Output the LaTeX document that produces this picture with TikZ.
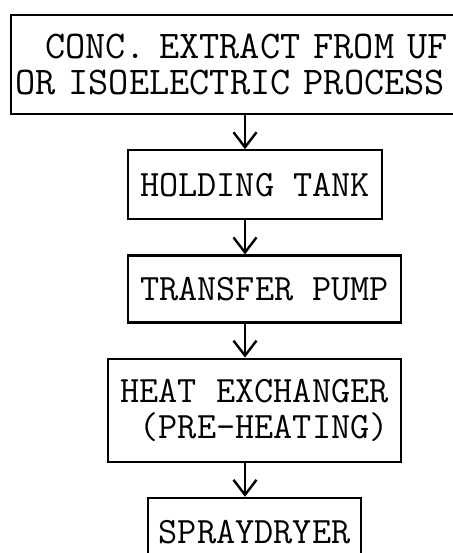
\documentclass[tikz,border=0pt]{standalone}
\usetikzlibrary{positioning, arrows.meta}

\begin{document}
\begin{tikzpicture}[
    x=0.5pt, y=-0.5pt,
    node distance=17pt,
    stage/.style={
        rectangle,
        draw=black,
        line width=1.1pt,
        font=\ttfamily\fontsize{18.6}{18}\selectfont,
        align=center,
        inner sep=1pt
    },
    flow/.style={
        -{Straight Barb[length=7.5pt, width=11.5pt]},
        line width=1.2pt
    }
]
    \useasboundingbox (0,0) rectangle (452,553);
    \coordinate (axis) at (245,0);

    \node[stage, anchor=north west, text width=236pt, align=left, minimum height=49.5pt,
          inner xsep=2pt, font=\ttfamily\fontsize{19.6}{18}\selectfont] (extract) at (10,14)
          {\hspace*{15pt}CONC. EXTRACT FROM UF\\OR ISOELECTRIC PROCESS};
    \node[stage, below=of extract, xshift=2pt, minimum width=127pt, minimum height=34.5pt] (tank) {HOLDING TANK};
    \node[stage, below=of tank, xshift=4.75pt, minimum width=136.5pt, minimum height=33.5pt] (pump) {TRANSFER PUMP};
    \node[stage, below=of pump, xshift=-5pt, minimum width=146.5pt, minimum height=51.5pt, align=right] (heater) {HEAT EXCHANGER\\(PRE-HEATING)};
    \node[stage, below=of heater, minimum width=106.5pt, minimum height=34pt] (dryer) {SPRAYDRYER};

    \draw[flow] (extract.south -| axis) -- (tank.north -| axis);
    \draw[flow] (tank.south -| axis) -- (pump.north -| axis);
    \draw[flow] (pump.south -| axis) -- (heater.north -| axis);
    \draw[flow] (heater.south -| axis) -- (dryer.north -| axis);

\end{tikzpicture}
\end{document}
